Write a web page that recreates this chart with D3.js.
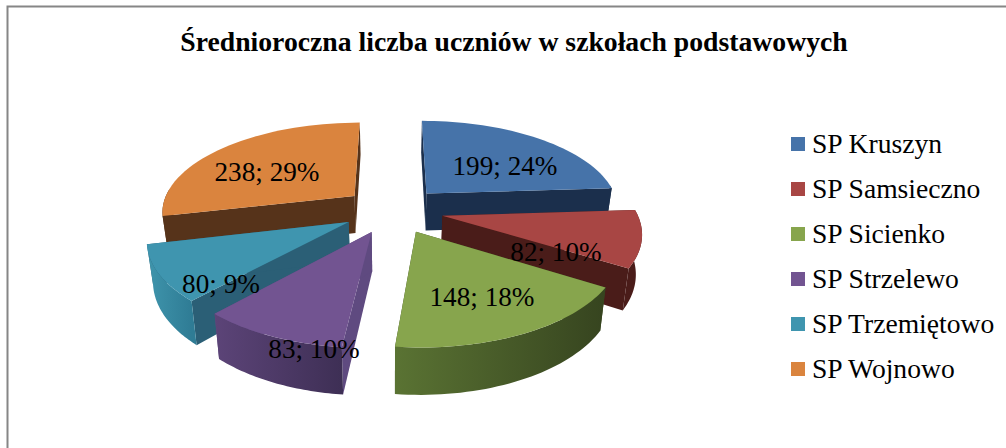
<!DOCTYPE html>
<html><head><meta charset="utf-8">
<script src="https://cdn.jsdelivr.net/npm/d3@7"></script>
<style>html,body{margin:0;padding:0;background:#fff}svg{display:block}text{font-family:"Liberation Serif",serif;fill:#000}</style>
</head><body><svg id="c" width="1006" height="448"></svg>
<script>
const titleText = "Średnioroczna liczba uczniów w szkołach podstawowych";
const categories = ["SP Kruszyn","SP Samsieczno","SP Sicienko","SP Strzelewo","SP Trzemiętowo","SP Wojnowo"];
const values = [199,82,148,83,80,238];
const percents = [24,10,18,10,9,29];

// styles
const topColors = ["#4673a9","#a84644","#87a54d","#725491","#3f95af","#da843e"];
const radialWall = ["#1b2f4c","#4a1c19","#38461f","#5f4a80","#2b5f76","#56331a"];
const arcWallL = ["#1b2f4c","#4a1c19","#5a7333","#5c4478","#3f95ac","#56331a"];
const arcWallR = ["#1b2f4c","#4a1c19","#36441f","#3e2f55","#2f7c95","#56331a"];
const labelCenters = [[505,166],[556,252],[482,297],[314,349],[221,284],[267,172]];
const legendTop = 144, legendStep = 45;

const cx=393, cy=210, rx=193.6, ry=89.3, persp=0.161, explode=0.26, depth=38, converge=0.025;
const sx = d3.scaleLinear().domain([0,1]).range([cx,cx+rx]);
const sy = d3.scaleLinear().domain([0,1]).range([cy,cy-ry]);
const project = (u,v,drop=0)=>{const s=1/(1+persp*v);return [sx(u*s*(1-converge*drop/depth)), sy(v*s)+drop*s];};

const svg=d3.select("#c");
const defs=svg.append("defs");
svg.append("path").attr("d","M7.5 448V6.5H1006").attr("fill","none").attr("stroke","#868686").attr("stroke-width",2);
svg.append("text").attr("x",514).attr("y",51).attr("text-anchor","middle").attr("font-weight","bold").attr("font-size",27.7).text(titleText);

const pie=d3.pie().sort(null).value(d=>d);
const arcs=pie(values);
const line=d3.line();
const order=[5,0,1,4,2,3];
order.forEach(i=>{
  const a=arcs[i], mid=(a.startAngle+a.endAngle)/2;
  const ox=explode*Math.sin(mid), oy=explode*Math.cos(mid);
  const pt=(th,r)=>[ox+r*Math.sin(th), oy+r*Math.cos(th)];
  const ths=d3.range(0,41).map(k=>a.startAngle+(a.endAngle-a.startAngle)*k/40);
  const apex=pt(0,0);
  const outer=ths.map(t=>pt(t,1));
  const top=p=>project(p[0],p[1]);
  const bot=p=>project(p[0],p[1],depth);
  const grp=svg.append("g").attr("class","slice");
  const wall=(pts,fill)=>grp.append("path")
    .attr("d",line([...pts.map(top),...pts.slice().reverse().map(bot)])+"Z").attr("fill",fill);
  // radial walls
  wall([apex,outer[0]],radialWall[i]);
  wall([apex,outer[40]],radialWall[i]);
  // outer wall, only the part facing the viewer
  const front=outer.filter((p,k)=>Math.cos(ths[k])<0.12);
  if(front.length>1){
    const xs=d3.extent(front.map(top),d=>d[0]);
    const gid="w"+i;
    const g=defs.append("linearGradient").attr("id",gid).attr("gradientUnits","userSpaceOnUse")
      .attr("x1",xs[0]).attr("x2",xs[1]).attr("y1",0).attr("y2",0);
    g.append("stop").attr("offset",0).attr("stop-color",arcWallL[i]);
    g.append("stop").attr("offset",1).attr("stop-color",arcWallR[i]);
    wall(front,`url(#${gid})`);
  }
  grp.append("path").attr("d",line([apex,...outer].map(top))+"Z").attr("fill",topColors[i]);
});
// data labels
svg.append("g").selectAll("text").data(values).join("text")
  .attr("x",(d,i)=>labelCenters[i][0]).attr("y",(d,i)=>labelCenters[i][1]).attr("dy","0.33em")
  .attr("text-anchor","middle").attr("font-size",27.2)
  .text((d,i)=>`${d}; ${percents[i]}%`);
// legend
const lg=svg.append("g").selectAll("g").data(categories).join("g")
  .attr("transform",(d,i)=>`translate(791,${legendTop+i*legendStep})`);
lg.append("rect").attr("width",14).attr("height",14).attr("y",-7).attr("fill",(d,i)=>topColors[i]);
lg.append("text").attr("x",21).attr("dy","0.33em").attr("font-size",27.6).text(d=>d);
</script></body></html>
